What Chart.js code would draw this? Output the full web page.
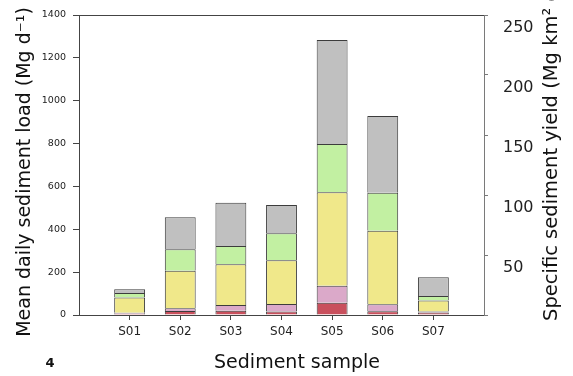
<!DOCTYPE html>
<html>
<head>
<meta charset="utf-8">
<script src="https://cdn.jsdelivr.net/npm/chart.js@4.4.1/dist/chart.umd.min.js"></script>
<style>
  html, body { margin: 0; padding: 0; background: #fff; }
  #wrap { width: 573px; height: 376px; }
</style>
</head>
<body>
<div id="wrap"><canvas id="chart" width="573" height="376"></canvas></div>
<script>
// Samples along the x axis
const CATEGORIES = ['S01', 'S02', 'S03', 'S04', 'S05', 'S06', 'S07'];

// Stacked loads per sample, Mg d-1 (bottom to top)
const RED_LOAD    = [6, 19, 20, 16, 57, 17, 12];
const PINK_LOAD   = [5, 12, 27, 35, 80, 33, 4];
const YELLOW_LOAD = [71, 176, 190, 205, 436, 343, 52];
const GREEN_LOAD  = [21, 100, 85, 125, 225, 178, 21];
const GRAY_LOAD   = [17, 149, 202, 132, 485, 358, 87];

// Axis ranges / ticks
const LEFT_MAX = 1400, LEFT_STEP = 200;
const RIGHT_MAX = 250, RIGHT_STEP = 50;

// Titles
const X_TITLE = 'Sediment sample';
const LEFT_TITLE = 'Mean daily sediment load (Mg d\u207b\u00b9)';
const RIGHT_TITLE = 'Specific sediment yield (Mg km\u00b2 d\u207b\u00b9)';

const FONT = "'DejaVu Sans', 'Liberation Sans', sans-serif";
const AXIS_DARK = '#444';
const AXIS_GRAY = '#7a7a7a';
const BAR_EDGE = '#3c3c3c';

// pad with an empty slot at each end so samples sit at 1/8 .. 7/8 of the width
const LABELS = ['', ...CATEGORIES, ''];
const pad = arr => [null, ...arr, null];

function series(label, data, color) {
  return {
    label,
    data: pad(data),
    backgroundColor: color,
    borderColor: BAR_EDGE,
    borderWidth: 1,
    barPercentage: 0.61,
    categoryPercentage: 1,
    yAxisID: 'y',
  };
}

// fixed box sizes, no extra label padding, so the plot sits at 79..484 x 15..315
function fixBox(size) {
  return s => {
    if (s.isHorizontal()) s.height = size; else s.width = size;
    s.paddingTop = 0; s.paddingBottom = 0;
    s.paddingLeft = 0; s.paddingRight = 0;
  };
}

function rotatedText(ctx, text, x, y, align) {
  ctx.save();
  ctx.translate(x, y);
  ctx.rotate(-Math.PI / 2);
  ctx.textAlign = align;
  ctx.textBaseline = 'middle';
  ctx.fillText(text, 0, 0);
  ctx.restore();
}

// top frame line, axis titles and the stray page number
const extras = {
  id: 'extras',
  afterDraw(chart) {
    const { ctx, chartArea: a } = chart;
    ctx.save();
    ctx.strokeStyle = AXIS_DARK;
    ctx.lineWidth = 1;
    ctx.beginPath();
    ctx.moveTo(a.left - 6, Math.round(a.top) + 0.5);
    ctx.lineTo(a.right, Math.round(a.top) + 0.5);
    ctx.stroke();

    ctx.fillStyle = '#111';
    ctx.font = "19px " + FONT;
    rotatedText(ctx, LEFT_TITLE, 25, 172, 'center');
    ctx.font = "19.5px " + FONT;
    rotatedText(ctx, RIGHT_TITLE, 552, 321, 'left');

    ctx.font = "19px " + FONT;
    ctx.textAlign = 'center';
    ctx.textBaseline = 'middle';
    ctx.fillText(X_TITLE, 297, 363);

    ctx.font = "bold 13px " + FONT;
    ctx.fillText('4', 50, 364);
    ctx.restore();
  }
};

Chart.defaults.color = '#222';
Chart.defaults.font.family = FONT;

new Chart(document.getElementById('chart'), {
  type: 'bar',
  data: {
    labels: LABELS,
    datasets: [
      series('red', RED_LOAD, '#c9505d'),
      series('pink', PINK_LOAD, '#dba9c9'),
      series('yellow', YELLOW_LOAD, '#f0e88a'),
      series('green', GREEN_LOAD, '#c2f0a2'),
      series('gray', GRAY_LOAD, '#c0c0c0'),
    ]
  },
  options: {
    responsive: false,
    animation: false,
    devicePixelRatio: 1,
    layout: { padding: { top: 15, left: 0, right: 0, bottom: 0 } },
    plugins: { legend: { display: false }, tooltip: { enabled: false } },
    scales: {
      x: {
        type: 'category',
        offset: false,
        stacked: true,
        grid: {
          offset: false,
          drawOnChartArea: false,
          tickLength: 5,
          tickColor: c => (c.index === 0 || c.index === LABELS.length - 1) ? 'rgba(0,0,0,0)' : AXIS_DARK,
        },
        border: { color: AXIS_DARK, width: 1 },
        ticks: { font: { size: 12 }, padding: 5, autoSkip: false, maxRotation: 0, color: '#222' },
        afterFit: fixBox(61),
      },
      y: {
        position: 'left',
        stacked: true,
        min: 0, max: LEFT_MAX,
        ticks: { stepSize: LEFT_STEP, font: { size: 9.5 }, padding: 7, color: '#222', callback: v => String(v) },
        grid: { drawOnChartArea: false, tickLength: 6, tickColor: AXIS_DARK },
        border: { color: AXIS_DARK, width: 1 },
        afterFit: fixBox(79),
      },
      y2: {
        position: 'right',
        min: 0, max: RIGHT_MAX,
        ticks: {
          stepSize: RIGHT_STEP, font: { size: 16 }, padding: 15, labelOffset: 13, color: '#222',
          callback: v => v === 0 ? '' : String(v),
        },
        grid: { drawOnChartArea: false, tickLength: 4, tickColor: AXIS_GRAY },
        border: { color: AXIS_GRAY, width: 1 },
        afterFit: fixBox(89),
      },
    }
  },
  plugins: [extras]
});
</script>
</body>
</html>
